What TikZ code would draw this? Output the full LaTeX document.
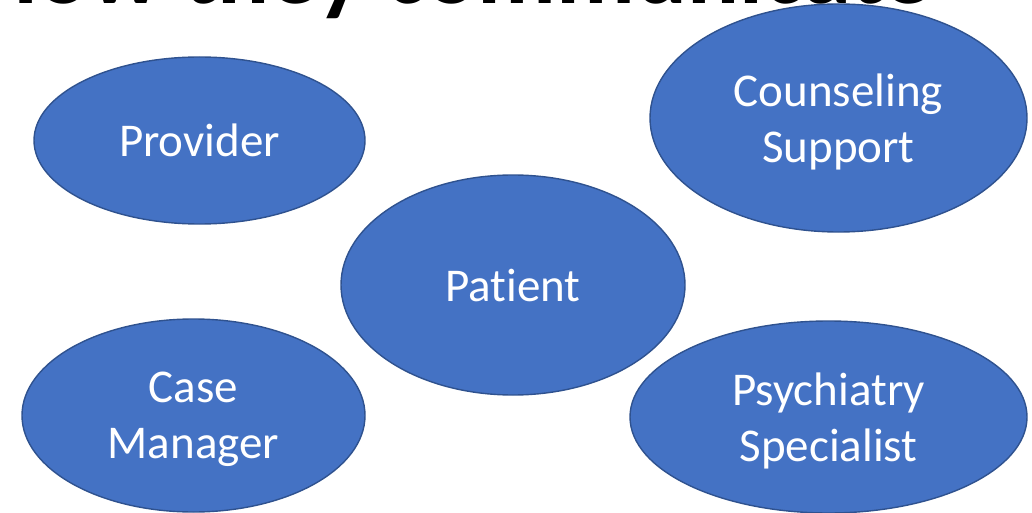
\documentclass[tikz,border=0pt]{standalone}
\usepackage{fontspec}
\setmainfont[Ligatures={NoCommon,NoContextual,NoRequired},Contextuals=NoAlternate]{Carlito}
\usetikzlibrary{shapes.geometric}
\definecolor{bubblefill}{HTML}{4472C4}
\definecolor{bubbleline}{HTML}{2F528F}
\begin{document}
\begin{tikzpicture}[x=1pt,y=-1pt,
  bubble/.style={ellipse, draw=bubbleline, line width=1.4pt, fill=bubblefill,
    text=white, inner sep=0pt, align=center, text depth=0pt,
    font=\fontsize{47}{56}\selectfont},
  heading/.style={anchor=base west, inner sep=0pt,
    font=\bfseries\fontsize{97}{116}\selectfont}]
\useasboundingbox (0,0) rectangle (1032,513);
\clip (0,0) rectangle (1032,513);
% slide heading, mostly above the visible area
\node[heading] (title) at (-24,4) {How they communicate};
% the five roles
\node[bubble, minimum width=331pt, minimum height=167pt] (provider) at (199.5,140.5) {Provider};
\node[bubble, minimum width=377pt, minimum height=228pt] (counsel) at (838.5,118) {Counseling\\Support};
\node[bubble, minimum width=344pt, minimum height=220pt] (patient) at (513,285) {Pat\kern0pt ient};
\node[bubble, minimum width=343pt, minimum height=193pt] (casemgr) at (193.5,415.5) {Case\\Manager};
\node[bubble, minimum width=397pt, minimum height=192pt] (psych) at (828.5,417) {Psychiatry\\Specialist};
\end{tikzpicture}
\end{document}
